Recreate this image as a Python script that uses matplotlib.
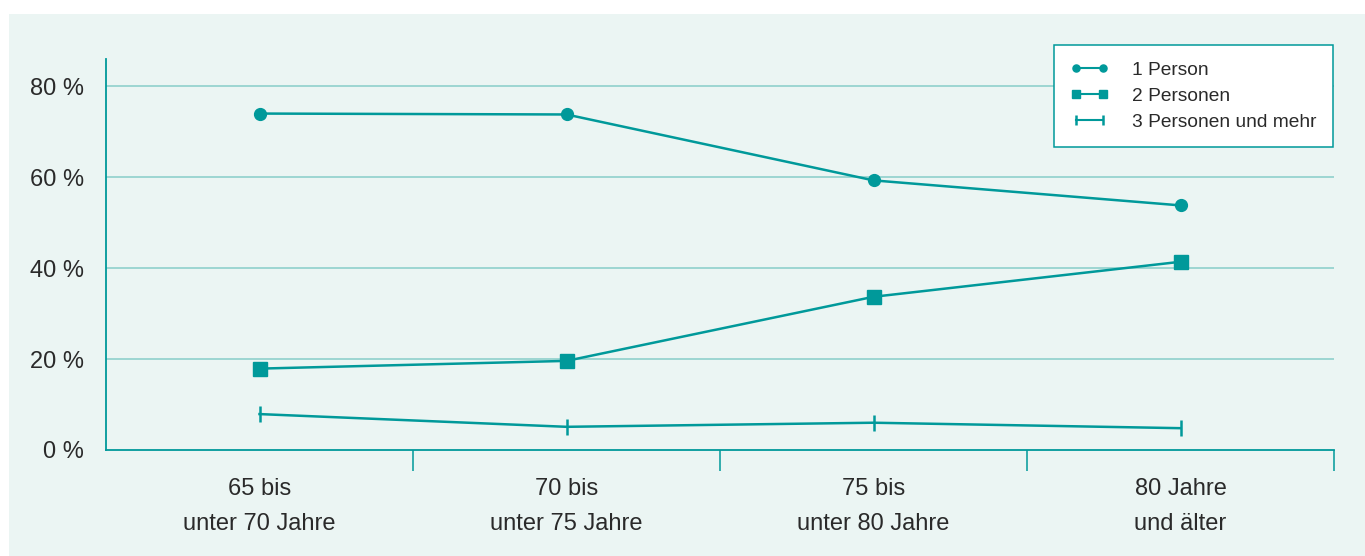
import matplotlib
matplotlib.use("Agg")
import matplotlib.pyplot as plt
from matplotlib.patches import Rectangle

# data (share of households, in %)
categories = ["65 bis\nunter 70 Jahre", "70 bis\nunter 75 Jahre",
              "75 bis\nunter 80 Jahre", "80 Jahre\nund älter"]
one_person = [74.0, 73.8, 59.3, 53.8]
two_persons = [17.9, 19.6, 33.7, 41.4]
three_plus = [7.9, 5.1, 6.0, 4.8]
y_ticks = [0, 20, 40, 60, 80]

teal = "#00999a"
grid_col = "#8fd0cc"
bg = "#ebf5f3"
txt = "#2a2a2a"

plt.rcParams["font.family"] = ["Liberation Sans", "DejaVu Sans"]

fig = plt.figure(figsize=(13.65, 5.56), dpi=100, facecolor="white")
fig.patches.append(Rectangle((9 / 1365, 0), 1, 1 - 14 / 556, transform=fig.transFigure,
                             facecolor=bg, edgecolor="none", zorder=-10))

ax = fig.add_axes([106 / 1365, 1 - 450 / 556, (1334 - 106) / 1365, (450 - 59) / 556])
ax.set_facecolor("none")

x = list(range(len(categories)))
ax.plot(x, one_person, color=teal, lw=1.8, marker="o", ms=8.5, label="1 Person", zorder=3)
ax.plot(x, two_persons, color=teal, lw=1.8, marker="s", ms=9.5, label="2 Personen", zorder=3)
ax.plot(x, three_plus, color=teal, lw=1.8, marker="|", ms=12, mew=1.8,
        label="3 Personen und mehr", zorder=3)

ax.set_xlim(-0.5, len(categories) - 0.5)
ax.set_ylim(0, 86)
ax.set_yticks(y_ticks)
ax.set_yticklabels([f"{v} %" for v in y_ticks])
ax.tick_params(axis="y", length=0, pad=16, labelsize=17, labelcolor=txt)
for v in y_ticks[1:]:
    ax.axhline(v, color=grid_col, lw=1.2, zorder=1)

ax.set_xticks([i + 0.5 for i in range(len(categories))])
ax.set_xticklabels([])
ax.tick_params(axis="x", which="major", length=15, width=1.1, color=teal, direction="out")
ax.set_xticks(x, minor=True)
ax.set_xticklabels(categories, minor=True, linespacing=1.8)
ax.tick_params(axis="x", which="minor", length=0, pad=20, labelsize=17, labelcolor=txt)

for s in ["top", "right"]:
    ax.spines[s].set_visible(False)
ax.spines["left"].set_color(teal)
ax.spines["bottom"].set_color(teal)
ax.spines["left"].set_linewidth(1.3)
ax.spines["bottom"].set_linewidth(1.3)

leg = ax.legend(loc="upper right", bbox_to_anchor=(1333 / 1365, 1 - 45 / 556),
                bbox_transform=fig.transFigure, numpoints=2, fontsize=13.8,
                frameon=True, fancybox=False, handlelength=2.0, handletextpad=1.25,
                borderpad=0.85, borderaxespad=0, labelspacing=0.45, markerscale=0.6)
leg.get_frame().set_edgecolor(teal)
leg.get_frame().set_linewidth(1.1)
leg.get_frame().set_facecolor("white")
leg.get_frame().set_alpha(1)
for t in leg.get_texts():
    t.set_color(txt)
for h in leg.legend_handles:
    h.set_linewidth(1.5)

fig.savefig("out.png", dpi=100, facecolor="white")
